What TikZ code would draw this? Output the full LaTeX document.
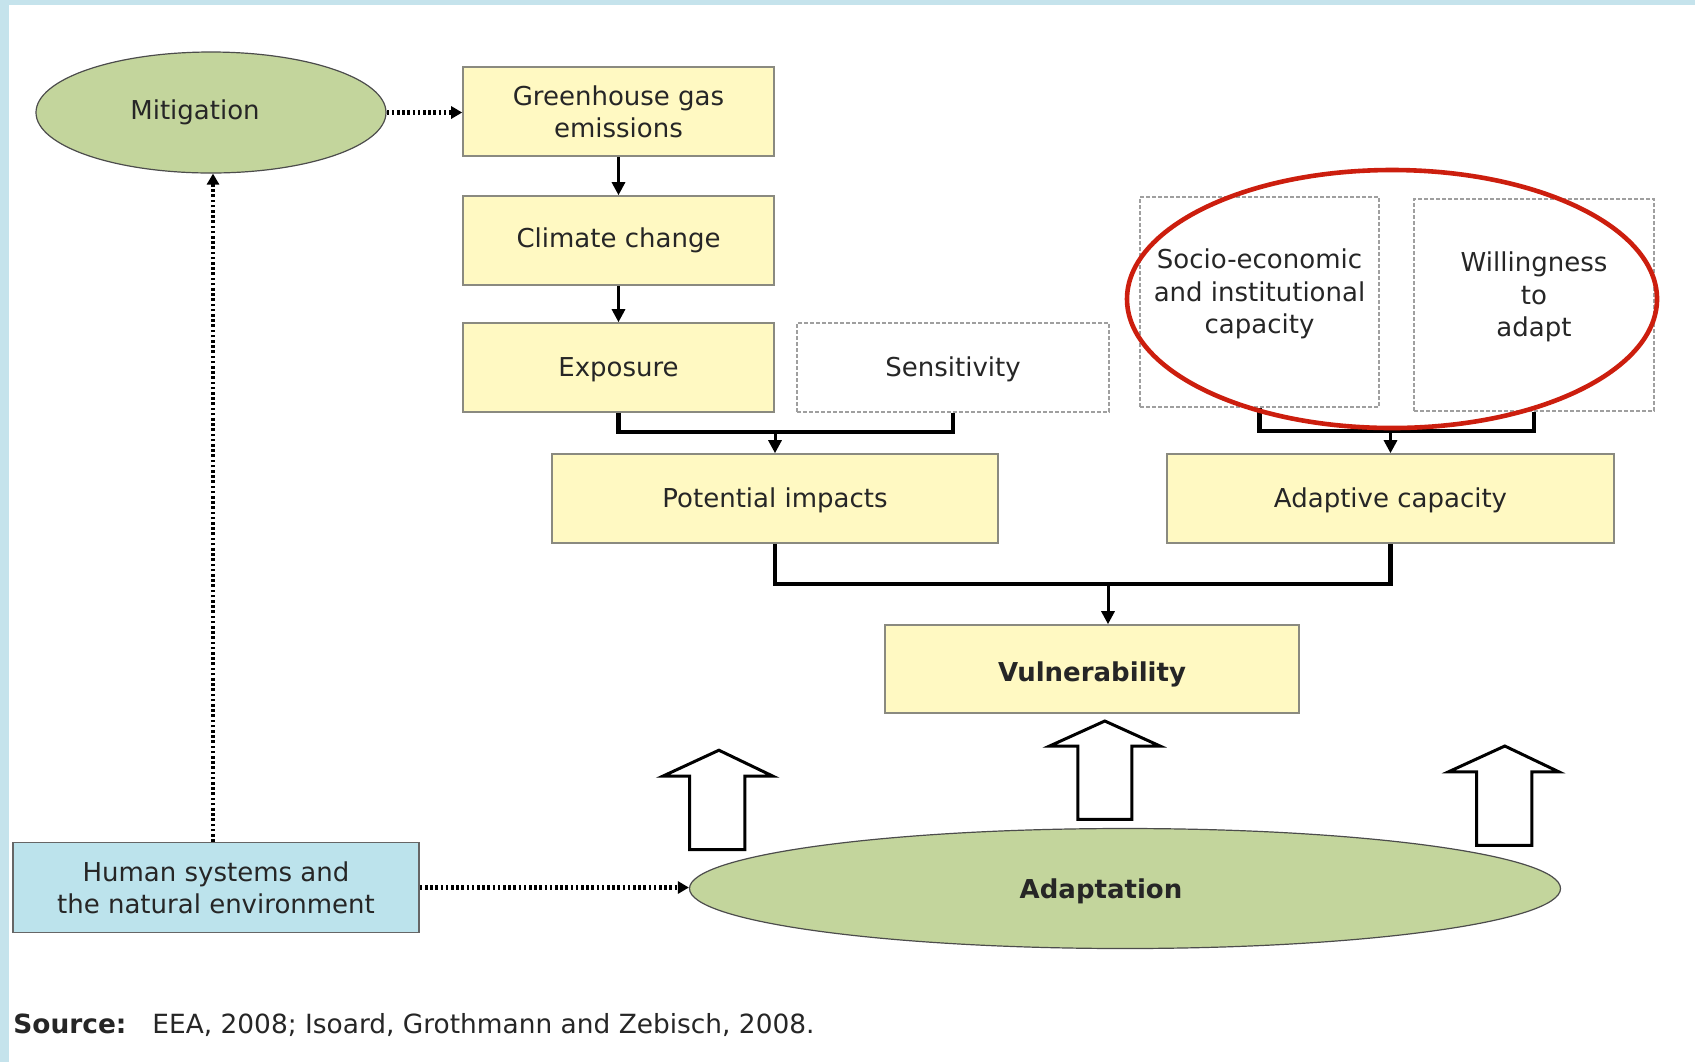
\documentclass[tikz,border=0pt]{standalone}
\usepackage{fontspec}
\setmainfont{DejaVu Sans}
\usetikzlibrary{shapes.geometric,arrows.meta}
\definecolor{boxyel}{HTML}{FFF9C2}
\definecolor{boxedge}{HTML}{8A8A80}
\definecolor{elgreen}{HTML}{C3D59C}
\definecolor{hblue}{HTML}{BCE3EC}
\definecolor{stripe}{HTML}{C5E3EC}
\definecolor{redring}{HTML}{CC1E0E}
\definecolor{txt}{HTML}{262626}
\begin{document}
\begin{tikzpicture}[x=0.5pt,y=-0.5pt,
  font=\fontsize{13pt}{16.2pt}\selectfont, text=txt,
  ybox/.style={rectangle, draw=boxedge, line width=0.8pt, fill=boxyel, inner sep=0pt, align=center},
  bbox/.style={rectangle, draw=gray!80!black, line width=0.8pt, fill=hblue, inner sep=0pt, align=center},
  dbox/.style={rectangle, draw=gray!75, line width=0.8pt, dash pattern=on 2pt off 1pt, fill=white, inner sep=0pt},
  lbl/.style={align=center, inner sep=0pt},
  gell/.style={ellipse, draw=gray!60!black, line width=0.6pt, fill=elgreen, inner sep=0pt},
  conn/.style={line width=1.5pt, -{Triangle[length=6.5pt,width=6.5pt]}},
  brk/.style={line width=2.2pt},
  dotline/.style={line width=2.4pt, dash pattern=on 1.3pt off 1.3pt, -{Triangle[length=5.5pt,width=6pt]}},
  barrow/.style={draw=black, fill=white, line width=1.5pt, line join=miter}
]
% background and frame stripes
\fill[white] (0,0) rectangle (1695,1062);
\useasboundingbox (0,0) rectangle (1695,1062);
\fill[stripe] (0,0) rectangle (9,1062);
\fill[stripe] (0,0) rectangle (1695,5);

% nodes
\node[gell, minimum width=175pt, minimum height=60.5pt] (mit) at (211,112.5) {Mitigation\hspace*{16pt}};
\node[ybox, minimum width=155.5pt, minimum height=44.5pt] (ghg) at (618.5,111.5) {Greenhouse gas\\emissions};
\node[ybox, minimum width=155.5pt, minimum height=44.5pt] (cc) at (618.5,240.5) {Climate change};
\node[ybox, minimum width=155.5pt, minimum height=44.5pt, text height=11pt, text depth=2pt] (exp) at (618.5,367.5) {Exposure};
\node[dbox, minimum width=156pt, minimum height=44.5pt, align=center, text height=11pt, text depth=2pt] (sens) at (953,367.5) {Sensitivity};
\node[ybox, minimum width=223pt, minimum height=44.5pt, text height=11pt, text depth=2pt] (pot) at (775,498.5) {Potential impacts};
\node[dbox, minimum width=119.5pt, minimum height=105pt] (socio) at (1259.5,302) {};
\node[lbl] (sociot) at (1259.5,294) {Socio-economic\\and institutional\\capacity};
\node[dbox, minimum width=120pt, minimum height=106pt] (will) at (1534,305) {};
\node[lbl] (willt) at (1534,297) {Willingness\\to\\adapt};
\node[ybox, minimum width=223.5pt, minimum height=44.5pt, text height=11pt, text depth=2pt] (adap) at (1390.5,498.5) {Adaptive capacity};
\node[ybox, minimum width=207pt, minimum height=44pt, text height=12pt, text depth=0pt] (vul) at (1092,669) {\bfseries Vulnerability};
\node[gell, minimum width=435.5pt, minimum height=60pt, text height=11pt, text depth=1pt] (ada) at (1125,888.5) {\bfseries Adaptation\hspace*{24pt}};
\node[bbox, minimum width=203pt, minimum height=45pt] (hum) at (216,887.5) {Human systems and\\the natural environment};

% solid connectors
\draw[conn] (ghg) -- (cc);
\draw[conn] (cc) -- (exp);
\coordinate (b1) at (775,432);
\draw[brk] (exp.south) |- (b1) -| (sens.south);
\draw[conn] (b1) -- (pot.north);
\coordinate (b2) at (1390.5,431);
\draw[brk] (socio.south) |- (b2) -| (will.south);
\draw[conn] (b2) -- (adap.north);
\coordinate (b3) at (1108,584);
\draw[brk] (pot.south) |- (b3) -| (adap.south);
\draw[conn] (b3) -- (b3 |- vul.north);

% dotted connectors
\draw[dotline] (mit.east) -- (mit.east -| ghg.west);
\draw[dotline] ([xshift=-1.5pt]hum.north) -- ([xshift=-1.5pt]hum.north |- mit.south);
\draw[dotline] (hum.east) -- (hum.east -| ada.west);

% block arrows
\draw[barrow] (689.7,849.7) -- (689.7,776.2) -- (662.7,776.2) -- (718.9,750.2) -- (773,776.2) -- (744.8,776.2) -- (744.8,849.7) -- cycle;
\draw[barrow] (1077.8,819.4) -- (1077.8,746) -- (1049.6,746) -- (1104.8,721) -- (1160,746) -- (1131.8,746) -- (1131.8,819.4) -- cycle;
\draw[barrow] (1476.6,845.3) -- (1476.6,771.8) -- (1448.5,771.8) -- (1504.8,746) -- (1558.8,771.8) -- (1531.8,771.8) -- (1531.8,845.3) -- cycle;

% red ring
\node[ellipse, draw=redring, line width=2.3pt, minimum width=265pt, minimum height=129pt, inner sep=0pt] (ring) at (1392,299) {};

% source line
\node[anchor=base west, inner sep=0pt, font=\fontsize{13.2pt}{16pt}\selectfont] (src) at (13,1033) {{\bfseries Source:}\hspace{13pt}EEA, 2008; Isoard, Grothmann and Zebisch, 2008.};
\end{tikzpicture}
\end{document}
